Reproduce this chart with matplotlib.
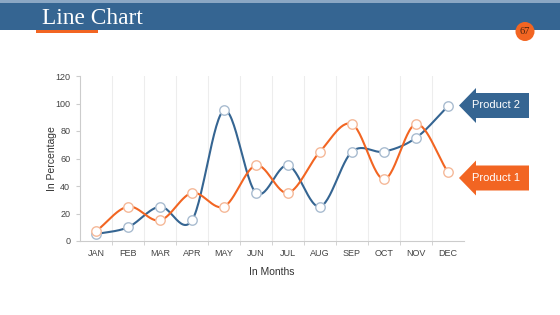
import matplotlib
matplotlib.use("Agg")
import matplotlib.pyplot as plt
from matplotlib.patches import Rectangle, Circle, Polygon
import numpy as np

months = ["JAN", "FEB", "MAR", "APR", "MAY", "JUN", "JUL", "AUG", "SEP", "OCT", "NOV", "DEC"]
product1 = [7, 25, 15, 35, 25, 55, 35, 65, 85, 45, 85, 50]
product2 = [5, 10, 25, 15, 95, 35, 55, 25, 65, 65, 75, 98]
yticks = [0, 20, 40, 60, 80, 100, 120]

BLUE = "#356592"
ORANGE = "#F26522"
W, H = 560, 315

fig = plt.figure(figsize=(W / 100, H / 100), dpi=100)
fig.patch.set_facecolor("white")

# header band
ov = fig.add_axes([0, 0, 1, 1], zorder=0)
ov.set_xlim(0, W)
ov.set_ylim(H, 0)
ov.axis("off")
ov.add_patch(Rectangle((0, 0), W, 3, color="#8BA7C4", lw=0))
ov.add_patch(Rectangle((0, 3), W, 26.5, color=BLUE, lw=0))
ov.add_patch(Rectangle((36, 29.5), 62, 3.5, color=ORANGE, lw=0))
ov.add_patch(Circle((525, 31.5), 9.5, color=ORANGE, lw=0))
ov.text(525, 32, "67", ha="center", va="center", fontsize=7.5,
        family="Liberation Serif", color="#4a2510")
ov.text(42, 24, "Line Chart", ha="left", va="baseline", fontsize=16.8,
        family="Liberation Serif", color="white")

# arrows
def arrow(yc, color, label):
    tip = 459
    hx = 476
    right = 529
    pts = [(tip, yc), (hx, yc - 17.5), (hx, yc - 12.5), (right, yc - 12.5),
           (right, yc + 12.5), (hx, yc + 12.5), (hx, yc + 17.5)]
    ov.add_patch(Polygon(pts, closed=True, color=color, lw=0))
    ov.text(496, yc, label, ha="center", va="center", fontsize=8,
            family="Liberation Sans", color="white")

arrow(105.5, BLUE, "Product 2")
arrow(178, ORANGE, "Product 1")

# chart
ax = fig.add_axes([80 / W, (H - 241) / H, 384 / W, 165 / H], zorder=1)
ax.patch.set_alpha(0)
x = np.arange(len(months))


def catmull(xs, ys, n=30):
    xs = np.asarray(xs, float)
    ys = np.asarray(ys, float)
    P = np.column_stack([xs, ys])
    P = np.vstack([P[0] * 2 - P[1], P, P[-1] * 2 - P[-2]])
    out = []
    t = np.linspace(0, 1, n)[:, None]
    for i in range(1, len(P) - 2):
        p0, p1, p2, p3 = P[i - 1], P[i], P[i + 1], P[i + 2]
        seg = 0.5 * ((2 * p1) + (-p0 + p2) * t + (2 * p0 - 5 * p1 + 4 * p2 - p3) * t ** 2
                     + (-p0 + 3 * p1 - 3 * p2 + p3) * t ** 3)
        out.append(seg if i == 1 else seg[1:])
    out = np.vstack(out)
    return out[:, 0], out[:, 1]


for vals, col, edge in [(product2, BLUE, "#A9BCD0"), (product1, ORANGE, "#F5B999")]:
    sx, sy = catmull(x, vals)
    ax.plot(sx, sy, color=col, lw=1.5, zorder=3)
    ax.plot(x, vals, "o", ms=6.8, mfc="white", mec=edge, mew=1.0, zorder=4)

ax.set_xlim(-0.5, 11.5)
ax.set_ylim(0, 120)
ax.set_yticks(yticks)
ax.set_yticklabels([str(v) for v in yticks])
ax.set_xticks(x)
ax.set_xticklabels(months)
ax.set_xticks(np.arange(0.5, 11.5, 1), minor=True)
for b in np.arange(0.5, 11.5, 1):
    ax.axvline(b, color="#EDEDED", lw=0.8, zorder=1)
ax.tick_params(axis="x", which="major", length=0, pad=6, labelsize=6.5, colors="#444444")
ax.tick_params(axis="x", which="minor", length=3, color="#CCCCCC")
ax.tick_params(axis="y", length=3, color="#CCCCCC", labelsize=6.5, labelcolor="#444444", pad=4)
for lab in ax.get_xticklabels() + ax.get_yticklabels():
    lab.set_family("Liberation Sans")
for s in ["top", "right"]:
    ax.spines[s].set_visible(False)
for s in ["left", "bottom"]:
    ax.spines[s].set_color("#CCCCCC")
    ax.spines[s].set_linewidth(0.8)
ax.set_ylabel("In Percentage", fontsize=7.5, family="Liberation Sans", color="#333333")
ax.yaxis.set_label_coords(-0.06, 0.5)
ax.set_xlabel("In Months", fontsize=7.5, family="Liberation Sans", color="#333333", labelpad=6)

fig.savefig("out.png", dpi=100)
